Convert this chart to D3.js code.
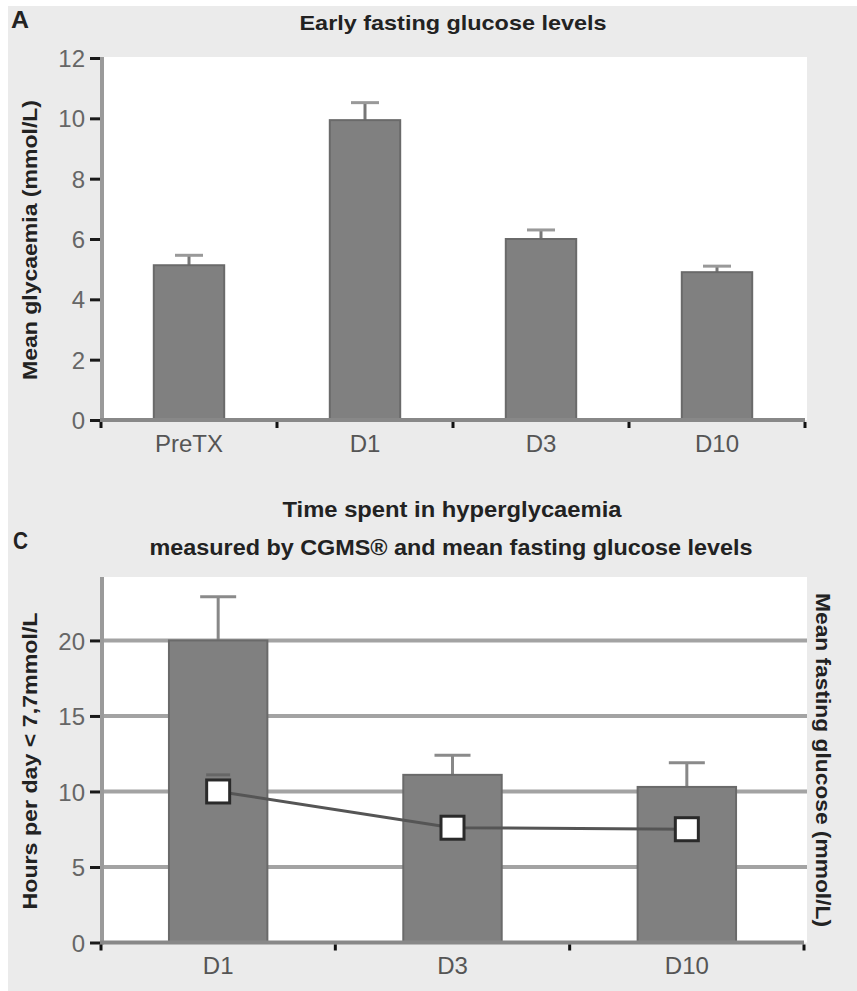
<!DOCTYPE html>
<html>
<head>
<meta charset="utf-8">
<script src="https://cdn.jsdelivr.net/npm/d3@7"></script>
<style>
  html, body { margin: 0; padding: 0; background: #fff; }
  svg { display: block; }
  .tick text { font-family: "Liberation Sans Narrow", "Arial Narrow", "Liberation Sans", sans-serif; }
</style>
</head>
<body>
<svg id="chart" width="857" height="991"></svg>
<script>
// Panel A: early fasting glucose levels
const earlyDays = ["PreTX", "D1", "D3", "D10"];
const earlyGlucose = [5.13, 9.94, 6.0, 4.9];
const earlyGlucoseErr = [0.33, 0.58, 0.3, 0.2];
const earlyTicks = [0, 2, 4, 6, 8, 10, 12];

// Panel C: hours in hyperglycaemia (bars) and mean fasting glucose (squares)
const cgmsDays = ["D1", "D3", "D10"];
const hyperHours = [20.0, 11.1, 10.3];
const hyperHoursErr = [2.9, 1.3, 1.6];
const fastingGlucose = [10.0, 7.6, 7.5];
const fastingGlucoseErr = [1.1, 0.4, 0.4];
const hourTicks = [0, 5, 10, 15, 20];

const svg = d3.select("#chart");
const NARROW = '"Liberation Sans Narrow", "Arial Narrow", "Liberation Sans", sans-serif';

// page background
svg.append("rect").attr("x", 8).attr("y", 6).attr("width", 849).attr("height", 985).attr("fill", "#ebebeb");

function label(txt, x, y, opts) {
  const t = svg.append("text")
    .attr("x", x).attr("y", y)
    .attr("text-anchor", opts.anchor || "middle")
    .attr("font-family", NARROW)
    .attr("font-weight", opts.weight || "bold")
    .attr("font-size", opts.size || 20)
    .attr("fill", opts.fill || "#222")
    .text(txt);
  if (opts.len) t.attr("textLength", opts.len).attr("lengthAdjust", "spacingAndGlyphs");
  if (opts.rotate) t.attr("transform", `rotate(${opts.rotate},${x},${y})`);
  return t;
}

function drawPanel(cfg) {
  const { cats, values, errs, ticks, x, y, plot, capColor, capStemColor } = cfg;
  const g = svg.append("g");

  // plotting area
  g.append("rect").attr("x", plot.left).attr("y", plot.top)
    .attr("width", plot.right - plot.left).attr("height", plot.bottom - plot.top)
    .attr("fill", "#fff");

  // horizontal gridlines
  if (cfg.grid) {
    g.selectAll("line.grid").data(ticks.filter(d => d > 0)).join("line")
      .attr("class", "grid")
      .attr("x1", plot.left).attr("x2", plot.right)
      .attr("y1", d => y(d)).attr("y2", d => y(d))
      .attr("stroke", "#a3a3a3").attr("stroke-width", 4);
  }

  // error bars
  const eb = g.selectAll("g.err").data(cats).join("g").attr("class", "err");
  eb.append("line")
    .attr("x1", d => x(d) + x.bandwidth() / 2).attr("x2", d => x(d) + x.bandwidth() / 2)
    .attr("y1", (d, i) => y(values[i])).attr("y2", (d, i) => y(values[i] + errs[i]))
    .attr("stroke", capStemColor).attr("stroke-width", 3);
  eb.append("line")
    .attr("x1", d => x(d) + x.bandwidth() / 2 - cfg.capW / 2)
    .attr("x2", d => x(d) + x.bandwidth() / 2 + cfg.capW / 2)
    .attr("y1", (d, i) => y(values[i] + errs[i])).attr("y2", (d, i) => y(values[i] + errs[i]))
    .attr("stroke", capColor).attr("stroke-width", 3);

  // bars
  g.selectAll("rect.bar").data(cats).join("rect")
    .attr("class", "bar")
    .attr("x", d => x(d)).attr("width", x.bandwidth())
    .attr("y", (d, i) => y(values[i])).attr("height", (d, i) => y(0) - y(values[i]))
    .attr("fill", "#808080").attr("stroke", "#6a6a6a").attr("stroke-width", 2);

  // vertical axis line
  g.append("line").attr("x1", plot.left + 2).attr("x2", plot.left + 2)
    .attr("y1", plot.top).attr("y2", y(0) + 2)
    .attr("stroke", "#9a9a9a").attr("stroke-width", 4);

  // left axis ticks and labels
  const ya = g.append("g").attr("transform", `translate(${plot.left},0)`)
    .call(d3.axisLeft(y).tickValues(ticks).tickSize(10).tickPadding(5).tickFormat(d3.format("d")));
  ya.select(".domain").remove();
  ya.selectAll(".tick line").attr("stroke", "#1a1a1a").attr("stroke-width", 3);
  ya.selectAll(".tick text").attr("font-size", 24).attr("fill", "#666").attr("dy", "0.36em");

  // horizontal axis line
  g.append("line").attr("x1", plot.left).attr("x2", x.range()[1])
    .attr("y1", y(0)).attr("y2", y(0))
    .attr("stroke", "#888").attr("stroke-width", 4);

  // category boundary ticks
  const bounds = d3.range(cats.length + 1).map(k => x.range()[0] + k * x.step());
  g.selectAll("line.bt").data(bounds).join("line")
    .attr("class", "bt")
    .attr("x1", d => d).attr("x2", d => d)
    .attr("y1", y(0) + 2).attr("y2", y(0) + 8)
    .attr("stroke", "#111").attr("stroke-width", 3);

  // category labels
  const xa = g.append("g").attr("transform", `translate(0,${y(0)})`)
    .call(d3.axisBottom(x).tickSize(0).tickPadding(cfg.labelPad));
  xa.select(".domain").remove();
  xa.selectAll(".tick text").attr("font-size", 24).attr("fill", "#555");
  return g;
}

// ---------- Panel A ----------
const xA = d3.scaleBand().domain(earlyDays).range([101, 805]).paddingInner(0.6).paddingOuter(0.3);
const yA = d3.scaleLinear().domain([0, 12]).range([420, 58]);
drawPanel({
  cats: earlyDays, values: earlyGlucose, errs: earlyGlucoseErr, ticks: earlyTicks,
  x: xA, y: yA, plot: { left: 100, right: 807, top: 57, bottom: 420 },
  capW: 28, capColor: "#999", capStemColor: "#777", labelPad: 15, grid: false
});
label("A", 11, 28, { size: 24, anchor: "start", len: 18 });
label("Early fasting glucose levels", 453, 30, { size: 21, len: 307 });
label("Mean glycaemia (mmol/L)", 37, 240, { size: 21, len: 280, rotate: -90 });

// ---------- Panel C ----------
const xC = d3.scaleBand().domain(cgmsDays).range([101, 804]).paddingInner(0.58).paddingOuter(0.29);
const yC = d3.scaleLinear().domain([0, 24.2]).range([942.5, 577]);
drawPanel({
  cats: cgmsDays, values: hyperHours, errs: hyperHoursErr, ticks: hourTicks,
  x: xC, y: yC, plot: { left: 100, right: 807, top: 577, bottom: 942.5 },
  capW: 36, capColor: "#8a8a8a", capStemColor: "#888", labelPad: 14, grid: true
});

// mean fasting glucose series
const cx = d => xC(d) + xC.bandwidth() / 2;
const gl = svg.append("g");
gl.selectAll("line.gerr").data(cgmsDays).join("line")
  .attr("class", "gerr")
  .attr("x1", d => cx(d) - 12).attr("x2", d => cx(d) + 12)
  .attr("y1", (d, i) => yC(fastingGlucose[i] + fastingGlucoseErr[i]))
  .attr("y2", (d, i) => yC(fastingGlucose[i] + fastingGlucoseErr[i]))
  .attr("stroke", "#666").attr("stroke-width", 3);
gl.append("path")
  .datum(cgmsDays)
  .attr("d", d3.line().x(d => cx(d)).y((d, i) => yC(fastingGlucose[i])))
  .attr("fill", "none").attr("stroke", "#555").attr("stroke-width", 3);
gl.selectAll("rect.sq").data(cgmsDays).join("rect")
  .attr("class", "sq")
  .attr("x", d => cx(d) - 11.5).attr("y", (d, i) => yC(fastingGlucose[i]) - 11.5)
  .attr("width", 23).attr("height", 23)
  .attr("fill", "#fff").attr("stroke", "#2a2a2a").attr("stroke-width", 3);

label("C", 13, 549, { size: 24, anchor: "start", len: 15 });
label("Time spent in hyperglycaemia", 452, 517, { size: 22, len: 339 });
label("measured by CGMS® and mean fasting glucose levels", 451, 555, { size: 22, len: 603 });
label("Hours per day < 7,7mmol/L", 37, 761, { size: 21, len: 297, rotate: -90 });
label("Mean fasting glucose (mmol/L)", 816, 760, { size: 21, len: 334, rotate: 90 });
</script>
</body>
</html>
